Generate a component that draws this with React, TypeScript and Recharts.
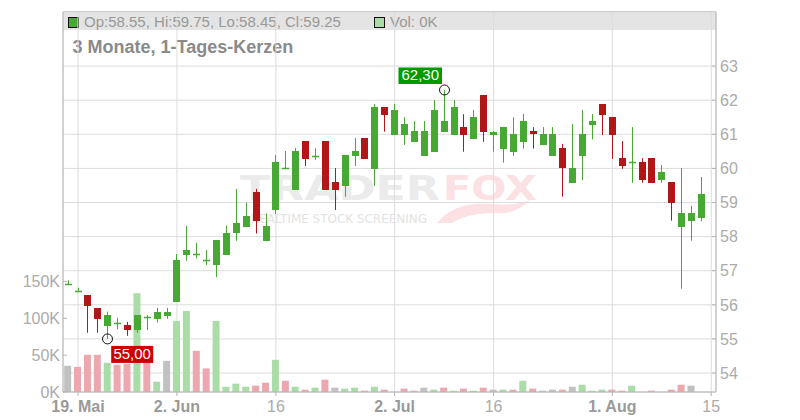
import React from 'react';
import { ComposedChart, Bar, XAxis, YAxis, CartesianGrid, Cell } from 'recharts';

const FONT = '"Liberation Sans", Arial, Helvetica, sans-serif';

// trading days (categories), 16 May .. 14 Aug
const days = [
  '16.05.', '19.05.', '20.05.', '21.05.', '22.05.', '23.05.', '26.05.', '27.05.', '28.05.', '29.05.', '30.05.',
  '02.06.', '03.06.', '04.06.', '05.06.', '06.06.', '09.06.', '10.06.', '11.06.', '12.06.', '13.06.',
  '16.06.', '17.06.', '18.06.', '19.06.', '20.06.', '23.06.', '24.06.', '25.06.', '26.06.', '27.06.', '30.06.',
  '01.07.', '02.07.', '03.07.', '04.07.', '07.07.', '08.07.', '09.07.', '10.07.', '11.07.', '14.07.', '15.07.',
  '16.07.', '17.07.', '18.07.', '21.07.', '22.07.', '23.07.', '24.07.', '25.07.', '28.07.', '29.07.', '30.07.', '31.07.',
  '01.08.', '04.08.', '05.08.', '06.08.', '07.08.', '08.08.', '11.08.', '12.08.', '13.08.', '14.08.',
];

const openP = [
  56.60, 56.41, 56.29, 55.91, 55.39, 55.48, 55.41, 55.27, 55.65, 55.59, 55.67,
  56.09, 57.46, 57.49, 57.31, 57.17, 57.46, 58.10, 58.29, 59.30, 57.88,
  58.78, 60.00, 59.37, 60.80, 60.37, 60.80, 59.60, 59.48, 60.37, 60.89, 59.99,
  61.80, 60.99, 60.99, 60.78, 60.37, 60.49, 61.08, 60.99, 61.21, 60.87, 62.14,
  60.99, 60.58, 60.49, 60.78, 61.10, 60.70, 60.37, 60.60, 59.58, 60.36, 61.27, 61.89,
  61.51, 60.30, 60.19, 60.19, 60.30, 59.66, 59.60, 58.29, 58.47, 58.55,
];
const highP = [
  56.72, 56.50, 56.29, 55.91, 55.80, 55.62, 55.50, 55.70, 55.70, 55.91, 55.91,
  57.49, 58.31, 57.82, 57.61, 57.90, 58.32, 59.40, 59.00, 59.40, 58.68,
  60.39, 60.51, 60.60, 60.80, 60.59, 60.80, 60.01, 60.39, 60.89, 60.89, 61.89,
  61.80, 61.89, 61.50, 61.39, 61.39, 62.00, 62.30, 62.00, 61.59, 61.71, 62.14,
  61.10, 61.21, 61.50, 61.60, 61.21, 61.21, 61.21, 60.72, 61.30, 61.71, 61.59, 61.89,
  61.51, 60.80, 61.21, 60.30, 60.30, 60.10, 59.60, 60.01, 58.90, 59.75,
];
const lowP = [
  56.59, 56.38, 55.18, 55.18, 55.00, 55.28, 55.09, 55.18, 55.26, 55.48, 55.59,
  56.09, 57.29, 57.36, 57.17, 56.81, 57.46, 57.88, 58.29, 58.09, 57.88,
  58.66, 60.00, 59.37, 60.07, 60.25, 59.37, 58.78, 59.17, 60.07, 60.28, 59.49,
  61.08, 60.99, 60.69, 60.78, 60.37, 60.49, 61.08, 60.99, 60.49, 60.87, 60.78,
  60.49, 60.17, 60.37, 60.58, 60.58, 60.70, 60.37, 59.17, 59.58, 59.66, 60.85, 60.98,
  60.28, 59.99, 59.58, 59.58, 59.58, 59.58, 58.47, 56.47, 57.88, 58.45,
];
const closeP = [
  56.61, 56.41, 55.97, 55.59, 55.70, 55.48, 55.27, 55.70, 55.65, 55.79, 55.79,
  57.31, 57.61, 57.49, 57.31, 57.90, 58.11, 58.39, 58.60, 58.47, 58.31,
  60.19, 60.00, 60.51, 60.28, 60.37, 59.37, 59.37, 60.39, 60.52, 60.28, 61.80,
  61.57, 61.71, 61.30, 61.10, 61.10, 61.71, 61.39, 61.80, 60.99, 61.50, 61.08,
  61.08, 61.21, 61.01, 61.39, 61.00, 61.00, 61.00, 60.00, 60.00, 61.00, 61.39, 61.57,
  60.98, 60.07, 60.19, 59.66, 59.58, 59.89, 58.99, 58.69, 58.69, 59.25,
];
// volume in thousands
const volK = [
  35.6, 34.2, 50.5, 50.5, 39.6, 36.9, 38.3, 134, 52, 14, 42.3,
  96.4, 110, 55.9, 32, 96.4, 7.2, 11.3, 7.2, 8.6, 12.6,
  43.7, 15.3, 7.2, 3.2, 5.9, 16.7, 5.9, 4.5, 5.9, 1.8, 7.2,
  3.2, 0, 4.5, 1.8, 5.9, 3.2, 5.9, 1.8, 4.5, 1.8, 5.9,
  3.2, 3.2, 3.2, 15.3, 4.5, 1.8, 3.2, 3.2, 7.2, 9.9, 1.8, 3.2,
  3.2, 1.8, 8.6, 0, 1.8, 0, 3.2, 9.9, 8.6, 0,
];

const tickIdx = [1, 11, 21, 33, 43, 55, 65];
const tickLabels = ['19. Mai', '2. Jun', '16', '2. Jul', '16', '1. Aug', '15'];
const tickBold = [true, true, false, true, false, true, false];
const priceTicks = [54, 55, 56, 57, 58, 59, 60, 61, 62, 63];
const volTicks = [0, 50, 100, 150];

const GREEN = '#47a933';
const RED = '#b21616';
const VOL_UP = '#aadca8';
const VOL_DN = '#eda7af';
const VOL_EQ = '#c1c1c1';

const data = days.map((d, i) => {
  const c = closeP[i];
  let volColor = VOL_EQ;
  if (i > 0) {
    if (c > closeP[i - 1]) volColor = VOL_UP;
    else if (c < closeP[i - 1]) volColor = VOL_DN;
  }
  return {
    i,
    day: d,
    o: openP[i],
    h: highP[i],
    l: lowP[i],
    c,
    range: [lowP[i], highP[i]],
    vol: volK[i],
    volColor,
  };
});

const maxHighIdx = highP.indexOf(Math.max(...highP));
const minLowIdx = lowP.indexOf(Math.min(...lowP));
const last = data.length - 1;

const fmtDe = (v: number) => v.toFixed(2).replace('.', ',');

function Candle(props: any) {
  const { x, y, width, height, payload } = props;
  if (!payload || x == null || y == null) return null;
  const top = Math.min(y, y + height);
  const hpx = Math.abs(height);
  const { o, h: hi, l: lo, c, i } = payload;
  const span = hi - lo;
  const ratio = span > 0 ? hpx / span : 0;
  const cx = Math.round(x + width / 2) + 0.5;
  const yOf = (p: number) => top + (hi - p) * ratio;
  const bTop = Math.round(yOf(Math.max(o, c)));
  const bBot = Math.round(yOf(Math.min(o, c)));
  const color = c >= o ? GREEN : RED;
  const lowY = top + hpx;
  return (
    <g>
      <line x1={cx} x2={cx} y1={top} y2={lowY} stroke={color} strokeWidth={1} />
      {bBot - bTop < 1 ? (
        <line x1={cx - 3.5} x2={cx + 3.5} y1={bTop + 0.5} y2={bTop + 0.5} stroke={color} strokeWidth={1.5} />
      ) : (
        <rect x={cx - 3.5} y={bTop} width={7} height={bBot - bTop} fill={color} />
      )}
      {i === maxHighIdx && (
        <g>
          <circle cx={cx} cy={top} r={5} fill="none" stroke="#111" strokeWidth={1} />
          <rect x={cx - 2.5 - 43.5} y={top - 6 - 16.5} width={43.5} height={16.5} fill="#009a00" />
          <text x={cx - 2.5 - 43.5 / 2} y={top - 6 - 16.5 + 13} textAnchor="middle" fontSize={15} fill="#fff" fontFamily={FONT}>
            {fmtDe(hi)}
          </text>
        </g>
      )}
      {i === minLowIdx && (
        <g>
          <circle cx={cx} cy={lowY} r={5} fill="none" stroke="#111" strokeWidth={1} />
          <rect x={cx + 3.7} y={lowY + 7} width={42} height={17} fill="#cc0000" />
          <text x={cx + 3.7 + 21} y={lowY + 7 + 13} textAnchor="middle" fontSize={15} fill="#fff" fontFamily={FONT}>
            {fmtDe(lo)}
          </text>
        </g>
      )}
    </g>
  );
}

const XTick = (props: any) => {
  const { x, y, payload } = props;
  const k = tickIdx.indexOf(payload.value);
  if (k < 0) return null;
  const bold = tickBold[k];
  return (
    <text x={x} y={y} dy={13.5} textAnchor="middle" fontSize={16} fontWeight={bold ? 700 : 400}
      fill={bold ? '#9a9a9a' : '#ababab'} fontFamily={FONT}>
      {tickLabels[k]}
    </text>
  );
};

const PriceTick = (props: any) => {
  const { x, y, payload } = props;
  return (
    <g>
      <line x1={x - 8} x2={x - 4} y1={y} y2={y} stroke="#b5b5b5" />
      <text x={x} y={y} dy={5.7} textAnchor="start" fontSize={16} fill="#ababab" fontFamily={FONT}>
        {payload.value}
      </text>
    </g>
  );
};

const VolTick = (props: any) => {
  const { x, y, payload } = props;
  return (
    <g>
      <line x1={x + 3} x2={x + 7} y1={y} y2={y} stroke="#b5b5b5" />
      <text x={x} y={y} dy={5.7} textAnchor="end" fontSize={16} fill="#ababab" fontFamily={FONT}>
        {payload.value + 'K'}
      </text>
    </g>
  );
};

const W = 784;
const H = 412;
const X_DOMAIN: [number, number] = [-0.515, 65.48];

export default function App() {
  const lastD = data[last];
  const legendText = `Op:${lastD.o.toFixed(2)}, Hi:${lastD.h.toFixed(2)}, Lo:${lastD.l.toFixed(2)}, Cl:${lastD.c.toFixed(2)}`;
  return (
    <div style={{ position: 'relative', width: W, height: H, fontFamily: FONT }}>
      <svg width={W} height={H} style={{ position: 'absolute', left: 0, top: 0 }}>
        <rect x={55} y={4} width={653} height={18} fill="#e4e4e4" />
        <line x1={55} x2={708} y1={3.5} y2={3.5} stroke="#bdbdbd" />
        <rect x={60.5} y={9.5} width={10} height={10} fill={GREEN} stroke="#111" />
        <text x={76} y={18.7} fontSize={15} fill="#999" fontFamily={FONT}>{legendText}</text>
        <rect x={366.5} y={9.5} width={10} height={10} fill={VOL_UP} stroke="#111" />
        <text x={382} y={18.7} fontSize={15} fill="#999" fontFamily={FONT}>{`Vol: ${Math.round(lastD.vol)}K`}</text>
        <text x={64.5} y={44.7} fontSize={18} fontWeight={700} fill="#8a8a8a" fontFamily={FONT}>3 Monate, 1-Tages-Kerzen</text>
        {/* watermark */}
        <text x={232} y={192} fontSize={34} fontWeight={700} fill="#ebebeb" fontFamily='"DejaVu Sans", sans-serif'
          textLength={200} lengthAdjust="spacingAndGlyphs">TRADER</text>
        <text x={435} y={192} fontSize={34} fontWeight={700} fill="#fbe1e4" fontFamily='"DejaVu Sans", sans-serif'
          textLength={94} lengthAdjust="spacingAndGlyphs">FOX</text>
        <text x={243} y={215.3} fontSize={11.5} fill="#e3e3e3" fontFamily='"DejaVu Sans", sans-serif'
          textLength={176} lengthAdjust="spacingAndGlyphs">REALTIME STOCK SCREENING</text>
        <path d="M429,215 Q447,192 487,196 Q507,198 522,192 Q507,207 487,205 Q462,204 444,215 Z" fill="#fbe1e4" />
      </svg>
      <div style={{ position: 'absolute', left: 0, top: 0 }}>
        <ComposedChart width={W} height={H} data={data} margin={{ top: 4, right: 0, bottom: 0, left: 0 }}>
          <CartesianGrid xAxisId="x" yAxisId="price" stroke="#dcdcdc" strokeWidth={1} />
          <XAxis xAxisId="x" type="number" dataKey="i" domain={X_DOMAIN} ticks={tickIdx} interval={0}
            allowDataOverflow height={28} tickSize={4} tickMargin={2} stroke="#b5b5b5"
            axisLine={{ stroke: '#b5b5b5' }} tickLine={{ stroke: '#b5b5b5' }} tick={<XTick />} />
          <XAxis xAxisId="xv" type="number" dataKey="i" domain={X_DOMAIN} allowDataOverflow hide />
          <YAxis yAxisId="vol" orientation="left" width={55} domain={[0, 515.6]} ticks={volTicks} interval={0}
            allowDataOverflow tickSize={3} tickMargin={0} tickLine={false} axisLine={{ stroke: '#b5b5b5' }} tick={<VolTick />} />
          <YAxis yAxisId="price" orientation="right" width={76} domain={[53.443, 64.587]} ticks={priceTicks} interval={0}
            allowDataOverflow tickSize={4} tickMargin={0} tickLine={false} axisLine={{ stroke: '#b5b5b5' }} tick={<PriceTick />} />
          <Bar xAxisId="xv" yAxisId="vol" dataKey="vol" barSize={7} isAnimationActive={false}>
            {data.map((d) => (
              <Cell key={d.i} fill={d.volColor} />
            ))}
          </Bar>
          <Bar xAxisId="x" yAxisId="price" dataKey="range" barSize={7} isAnimationActive={false} shape={<Candle />} />
        </ComposedChart>
      </div>
    </div>
  );
}
